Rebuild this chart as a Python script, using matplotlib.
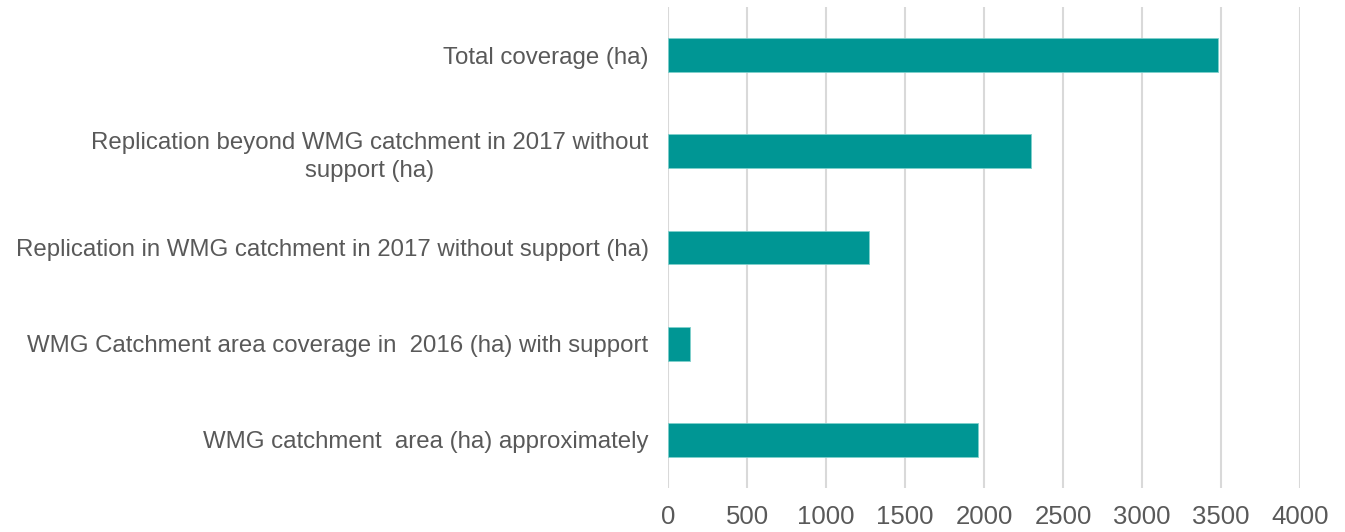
import numpy as np
import matplotlib.pyplot as plt

plt.rcParams["font.family"] = ["Liberation Sans", "DejaVu Sans"]

# categories, bottom to top
categories = [
    'WMG catchment  area (ha) approximately',
    'WMG Catchment area coverage in  2016 (ha) with support',
    'Replication in WMG catchment in 2017 without support (ha)',
    'Replication beyond WMG catchment in 2017 without\nsupport (ha)',
    'Total coverage (ha)',
]
values = [1960, 140, 1270, 2300, 3480]
x_ticks = [0, 500, 1000, 1500, 2000, 2500, 3000, 3500, 4000]

bar_color = '#009694'
text_color = '#595959'
grid_color = '#d9d9d9'

fig = plt.figure(figsize=(13.45, 5.32), dpi=100)
ax = fig.add_axes([668 / 1345, 1 - 488 / 532, 632 / 1345, 481 / 532])

y = np.arange(len(categories))
ax.barh(y, values, height=0.35, color=bar_color, edgecolor='#7fd0cc', linewidth=0.6, zorder=3)

ax.set_xlim(0, 4000)
ax.set_ylim(-0.5, len(categories) - 0.5)
ax.set_xticks(x_ticks)
ax.set_xticklabels([str(t) for t in x_ticks], fontsize=18.5, color=text_color)
ax.set_yticks(y)
ax.set_yticklabels(categories, fontsize=17.3, color=text_color,
                   multialignment='center', linespacing=1.38)

ax.tick_params(axis='both', length=0)
ax.tick_params(axis='y', pad=14)
ax.tick_params(axis='x', pad=12)

ax.grid(axis='x', color=grid_color, linewidth=1.5, zorder=0)
for s in ax.spines.values():
    s.set_visible(False)

plt.savefig('out.png', dpi=100, facecolor='white')
